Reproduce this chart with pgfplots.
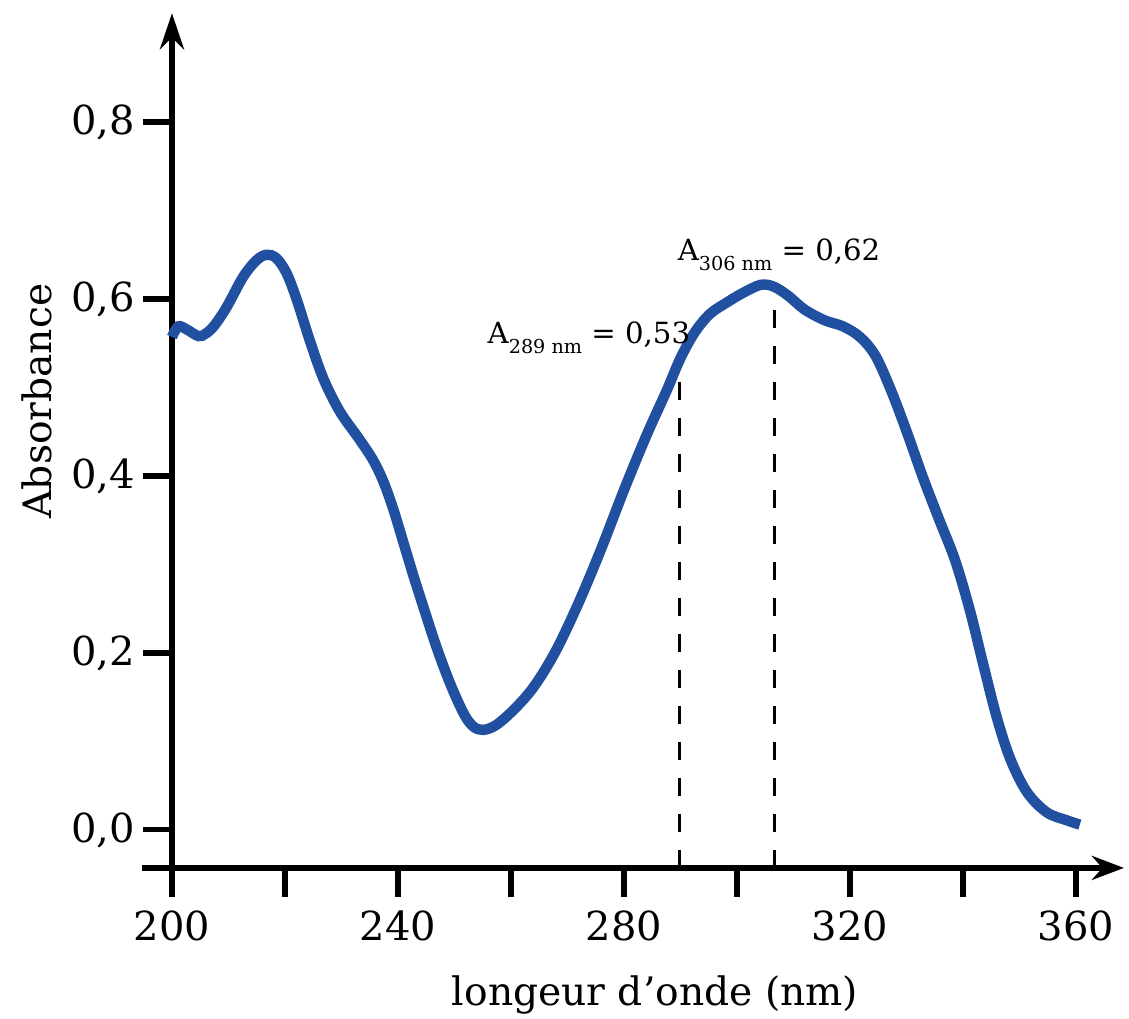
\documentclass[border=0pt]{standalone}
\usepackage{fontspec}
\setmainfont{DejaVu Serif}
\usepackage{pgfplots}
\pgfplotsset{compat=1.18}
\usetikzlibrary{arrows.meta}
\definecolor{curve}{RGB}{34,80,160}

\pgfplotstableread{
x y
200.0 0.557
201.1 0.569
202.5 0.566
204.7 0.558
206.0 0.561
207.5 0.570
209.7 0.591
212.6 0.625
215.0 0.644
216.8 0.650
218.5 0.646
220.3 0.629
222.1 0.599
224.4 0.553
226.8 0.510
229.7 0.473
233.0 0.443
235.5 0.419
237.4 0.394
239.2 0.362
241.0 0.324
242.8 0.286
244.7 0.248
246.8 0.207
249.2 0.166
251.6 0.132
253.3 0.117
255.1 0.113
257.5 0.119
261.0 0.139
264.3 0.164
268.0 0.203
272.0 0.257
276.0 0.318
280.0 0.384
284.0 0.446
287.6 0.497
290.0 0.533
292.5 0.562
295.2 0.583
298.2 0.596
301.1 0.607
304.2 0.616
306.5 0.614
309.0 0.604
312.0 0.588
315.5 0.576
318.8 0.569
321.8 0.557
324.5 0.536
327.2 0.498
330.0 0.451
333.0 0.397
335.9 0.349
338.6 0.305
341.2 0.249
343.6 0.187
346.0 0.127
348.4 0.080
351.3 0.043
354.8 0.020
358.3 0.011
360.7 0.006
}\spectrum

\begin{document}
\begin{tikzpicture}
\begin{axis}[
  scale only axis, width=237.3pt, height=213.7pt,
  xmin=200, xmax=368, ymin=-0.043, ymax=0.923,
  axis line style={draw=none},
  clip=false,
  xtick={200,240,...,360},
  minor xtick={220,260,300,340},
  ytick={0,0.2,0.4,0.6,0.8},
  tick align=outside,
  major tick length=7.2pt,
  minor tick length=7.2pt,
  tick style={black, line width=1.3pt},
  xtick pos=bottom, ytick pos=left,
  /pgf/number format/assume math mode=true,
  x tick label style={/pgf/number format/.cd, fixed, set thousands separator={}},
  y tick label style={xshift=1.5pt, /pgf/number format/.cd, fixed, fixed zerofill, precision=1, use comma},
  ticklabel style={font=\fontsize{10}{12}\selectfont},
]
\draw[line width=1.5pt, -{Stealth[length=8pt,width=6pt]}] (axis cs:194.7,-0.043) -- (axis cs:368.5,-0.043);
\draw[line width=1.5pt, -{Stealth[length=9pt,width=6pt]}] (axis cs:200,-0.056) -- (axis cs:200,0.923);

\addplot[black, line width=0.75pt, dash pattern=on 4.5pt off 4.5pt] coordinates {(289.9,-0.043) (289.9,0.523)};
\addplot[black, line width=0.75pt, dash pattern=on 4.5pt off 4.5pt] coordinates {(306.7,-0.043) (306.7,0.610)};

\addplot[curve, line width=2.6pt, smooth, tension=0.55, no marks] table[x=x,y=y] {\spectrum};

\node[anchor=base west, inner sep=0pt, font=\fontsize{7.3}{8}\selectfont] at (axis cs:289.4,0.644)
  {A\raisebox{-2.5pt}{\fontsize{4.8}{5}\selectfont 306 nm} = 0,62};
\node[anchor=base west, inner sep=0pt, font=\fontsize{7.3}{8}\selectfont] at (axis cs:255.75,0.550)
  {A\raisebox{-2.5pt}{\fontsize{4.8}{5}\selectfont 289 nm} = 0,53};

\node[anchor=base, inner sep=0pt, font=\fontsize{9.8}{11}\selectfont] at (axis cs:285.5,-0.1989) {longeur d’onde (nm)};
\node[anchor=base, rotate=90, inner sep=0pt, font=\fontsize{9.8}{11}\selectfont] at (axis cs:178.6,0.4847) {Absorbance};

\coordinate (bl) at (axis cs:169.56,-0.2136);
\coordinate (tr) at (axis cs:369.4,0.9379);
\end{axis}
\pgfresetboundingbox
\path[use as bounding box] (bl) rectangle (tr);
\end{tikzpicture}
\end{document}
